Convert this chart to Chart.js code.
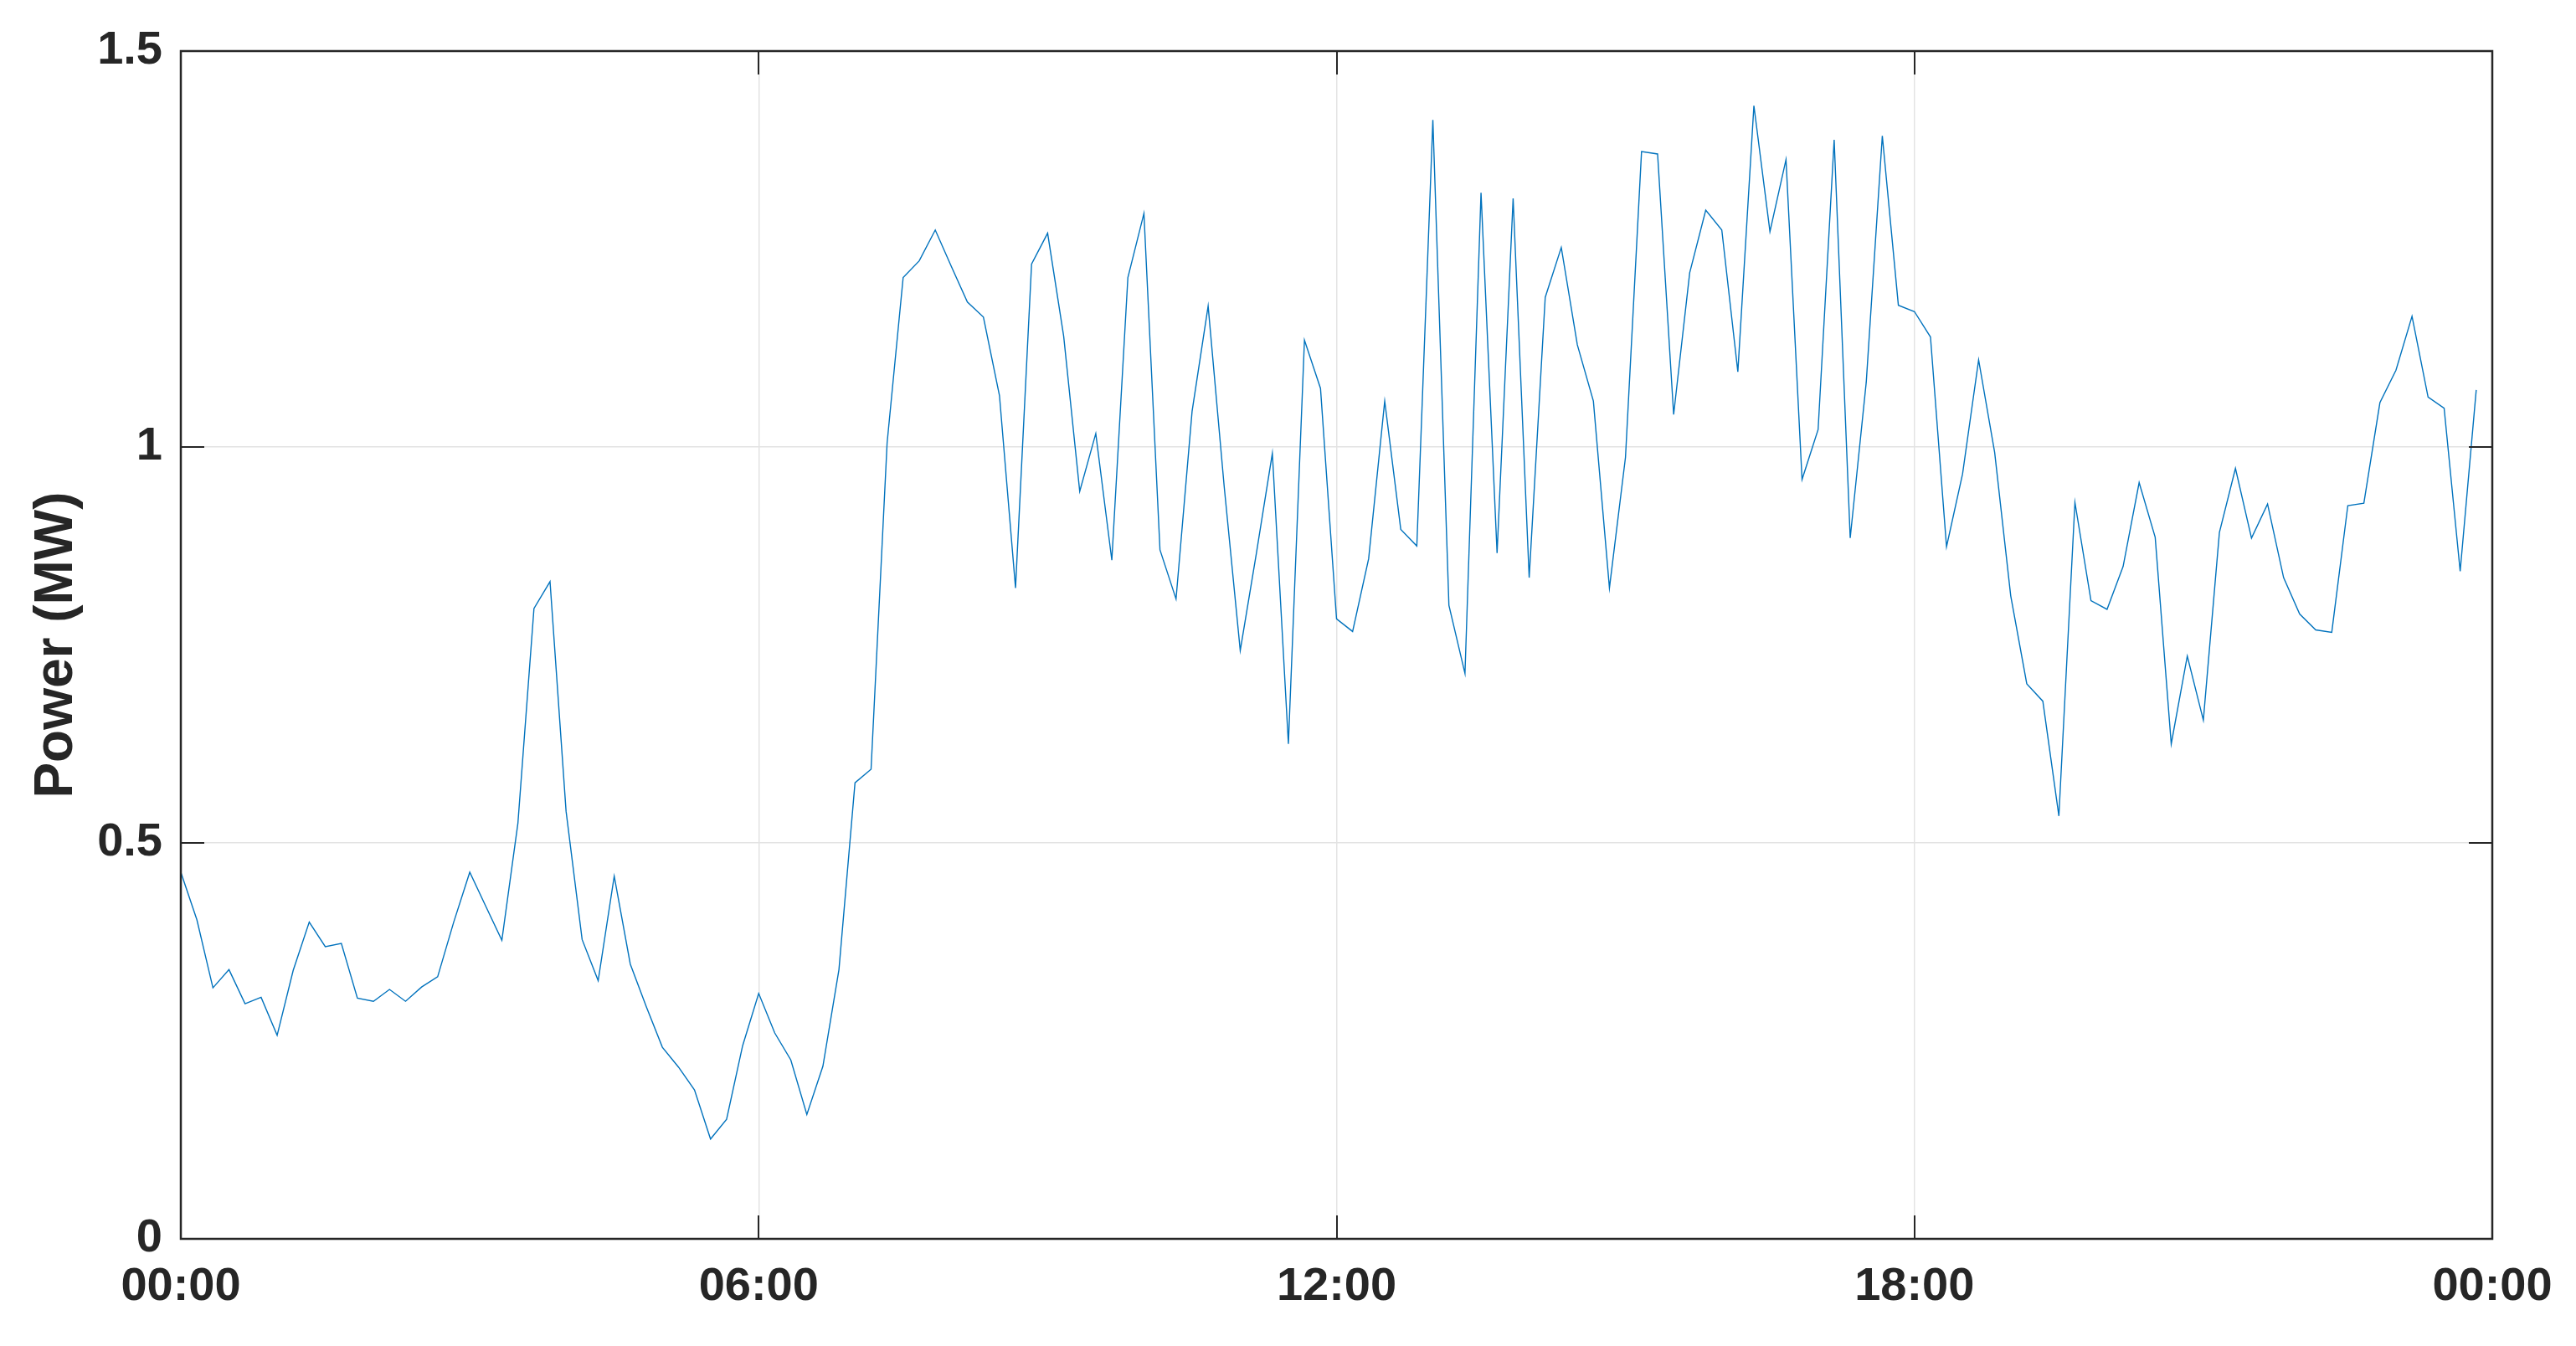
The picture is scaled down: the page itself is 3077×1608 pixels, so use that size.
<!DOCTYPE html>
<html>
<head>
<meta charset="utf-8">
<script src="https://cdn.jsdelivr.net/npm/chart.js@4/dist/chart.umd.min.js"></script>
<style>
  html, body { margin: 0; padding: 0; background: #fff; }
  #wrap { width: 3077px; height: 1608px; }
</style>
</head>
<body>
<div id="wrap"><canvas id="powerChart"></canvas></div>
<script>
// 10-minute samples, 00:00 to 23:50
const times = [];
for (let m = 0; m < 1440; m += 10) {
  times.push(String(Math.floor(m / 60)).padStart(2, '0') + ':' + String(m % 60).padStart(2, '0'));
}

const power = [
  0.463, 0.403, 0.317, 0.340, 0.297, 0.305, 0.257, 0.339, 0.400, 0.369,
  0.373, 0.304, 0.300, 0.315, 0.300, 0.318, 0.331, 0.400, 0.463, 0.420,
  0.377, 0.525, 0.796, 0.830, 0.540, 0.378, 0.326, 0.458, 0.347, 0.293,
  0.242, 0.217, 0.188, 0.126, 0.151, 0.244, 0.310, 0.260, 0.226, 0.157,
  0.218, 0.340, 0.576, 0.593, 1.005, 1.214, 1.235, 1.274, 1.228, 1.183,
  1.164, 1.065, 0.822, 1.231, 1.270, 1.140, 0.944, 1.017, 0.857, 1.214,
  1.295, 0.870, 0.808, 1.045, 1.178, 0.950, 0.743, 0.865, 0.992, 0.625,
  1.135, 1.074, 0.783, 0.767, 0.859, 1.058, 0.896, 0.875, 1.413, 0.800,
  0.714, 1.321, 0.866, 1.314, 0.835, 1.189, 1.252, 1.129, 1.058, 0.822,
  0.987, 1.373, 1.370, 1.041, 1.220, 1.299, 1.274, 1.095, 1.431, 1.272,
  1.363, 0.959, 1.022, 1.388, 0.885, 1.082, 1.393, 1.179, 1.171, 1.139,
  0.874, 0.966, 1.110, 0.993, 0.812, 0.701, 0.679, 0.534, 0.930, 0.806,
  0.795, 0.849, 0.955, 0.886, 0.625, 0.736, 0.655, 0.892, 0.973, 0.885,
  0.928, 0.835, 0.789, 0.769, 0.766, 0.926, 0.929, 1.056, 1.097, 1.165,
  1.063, 1.049, 0.843, 1.072
];

const xTickLabels = ['00:00', '06:00', '12:00', '18:00', '00:00'];
const yTicks = [0, 0.5, 1, 1.5];
const yTickLabels = ['0', '0.5', '1', '1.5'];

const toMinutes = (t) => {
  const [h, m] = t.split(':').map(Number);
  return h * 60 + m;
};

const axisColor = '#262626';
const gridColor = '#e3e3e3';
const fontFamily = '"Liberation Sans", Arial, sans-serif';
const tickFont = { family: fontFamily, size: 56, weight: 'bold' };

// MATLAB style box with inward ticks on all four sides
const boxPlugin = {
  id: 'boxTicks',
  afterDraw(chart) {
    const { ctx, chartArea: a, scales } = chart;
    const len = 28;
    ctx.save();
    ctx.strokeStyle = axisColor;
    ctx.lineWidth = 2;
    ctx.beginPath();
    scales.x.ticks.forEach((t) => {
      if (t.value <= scales.x.min || t.value >= scales.x.max) return;
      const px = Math.round(scales.x.getPixelForValue(t.value));
      ctx.moveTo(px, a.bottom); ctx.lineTo(px, a.bottom - len);
      ctx.moveTo(px, a.top); ctx.lineTo(px, a.top + len);
    });
    scales.y.ticks.forEach((t) => {
      if (t.value <= scales.y.min || t.value >= scales.y.max) return;
      const py = Math.round(scales.y.getPixelForValue(t.value));
      ctx.moveTo(a.left, py); ctx.lineTo(a.left + len, py);
      ctx.moveTo(a.right, py); ctx.lineTo(a.right - len, py);
    });
    ctx.stroke();
    ctx.lineWidth = 2.5;
    ctx.strokeRect(a.left, a.top, a.right - a.left, a.bottom - a.top);
    ctx.restore();
  }
};

new Chart(document.getElementById('powerChart'), {
  type: 'line',
  data: {
    datasets: [
      {
        data: times.map((t, i) => ({ x: toMinutes(t), y: power[i] })),
        borderColor: '#0072BD',
        borderWidth: 1.4,
        tension: 0,
        pointRadius: 0,
        fill: false
      }
    ]
  },
  options: {
    responsive: true,
    maintainAspectRatio: false,
    animation: false,
    layout: {
      padding: { left: 0, top: 61, right: 100, bottom: 0 }
    },
    plugins: {
      legend: { display: false },
      tooltip: { enabled: false }
    },
    scales: {
      x: {
        type: 'linear',
        min: 0,
        max: 1440,
        afterBuildTicks(scale) {
          scale.ticks = xTickLabels.map((_, i) => ({ value: i * 360 }));
        },
        afterFit(scale) {
          scale.height = 128;
        },
        ticks: {
          color: axisColor,
          font: tickFont,
          padding: 24,
          maxRotation: 0,
          callback: (v, i) => xTickLabels[i]
        },
        grid: { color: gridColor, lineWidth: 1.5, drawTicks: false },
        border: { display: false }
      },
      y: {
        min: 0,
        max: 1.5,
        afterBuildTicks(scale) {
          scale.ticks = yTicks.map((v) => ({ value: v }));
        },
        afterFit(scale) {
          scale.width = 216;
        },
        ticks: {
          color: axisColor,
          font: tickFont,
          padding: 22,
          callback: (v, i) => yTickLabels[i]
        },
        grid: { color: gridColor, lineWidth: 1.5, drawTicks: false },
        border: { display: false },
        title: {
          display: true,
          text: 'Power (MW)',
          color: axisColor,
          font: { family: fontFamily, size: 64, weight: 'bold' },
          padding: { top: 30, bottom: 0 }
        }
      }
    }
  },
  plugins: [boxPlugin]
});
</script>
</body>
</html>
